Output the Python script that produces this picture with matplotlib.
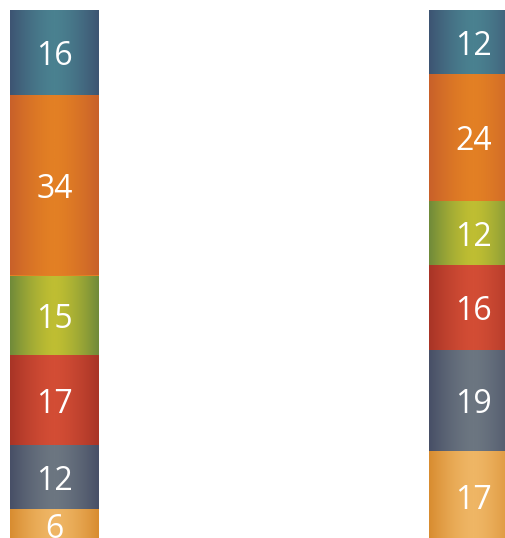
import numpy as np
import matplotlib
matplotlib.use("Agg")
import matplotlib.pyplot as plt
from matplotlib.colors import LinearSegmentedColormap

categories = ["A", "B"]
series_names = ["S1", "S2", "S3", "S4", "S5", "S6"]
values = [
    [16, 12],
    [34, 24],
    [15, 12],
    [17, 16],
    [12, 19],
    [6, 17],
]
edge_colors = ["#3d5472", "#c8602a", "#6f8a3a", "#a83426", "#474f66", "#d88c30"]
center_colors = ["#4a8190", "#e38024", "#bfbe32", "#d34d35", "#6c7681", "#efb665"]

fig = plt.figure(figsize=(5.05, 5.38), dpi=100)
# plot area: top at 10px, 5.31 px per unit -> bottom at 541px (slightly below the figure)
ax = fig.add_axes([0, -3 / 538, 1, 531 / 538])
x = np.arange(len(categories))
width = 89 / 419
ax.set_xlim(-54.5 / 419, (505 - 54.5) / 419)
ax.axis("off")

grad = np.linspace(0, 1, 200)
grad = np.abs(grad - 0.5) * 2
grad = grad ** 1.5
img = np.tile(grad, (2, 1))

bottom = np.zeros(len(categories))
for i, vals in enumerate(values):
    vals = np.array(vals, dtype=float)
    bars = ax.bar(x, vals, width=width, bottom=bottom, color=center_colors[i], linewidth=0)
    cmap = LinearSegmentedColormap.from_list("g%d" % i, [center_colors[i], edge_colors[i]])
    for b, v, bt in zip(bars, vals, bottom):
        x0 = b.get_x()
        im = ax.imshow(img, cmap=cmap, aspect="auto", vmin=0, vmax=1,
                       extent=[x0, x0 + width, bt + v, bt], interpolation="bilinear", zorder=2)
        im.set_clip_path(b)
        ax.text(b.get_x() + width / 2, bt + v / 2 + 0.85, "%d" % v, ha="center", va="center",
                color="white", fontsize=23, family="Open Sans", fontweight="medium", zorder=3)
    bottom = bottom + vals

ax.set_ylim(100, 0)
fig.savefig("out.png", dpi=100)
